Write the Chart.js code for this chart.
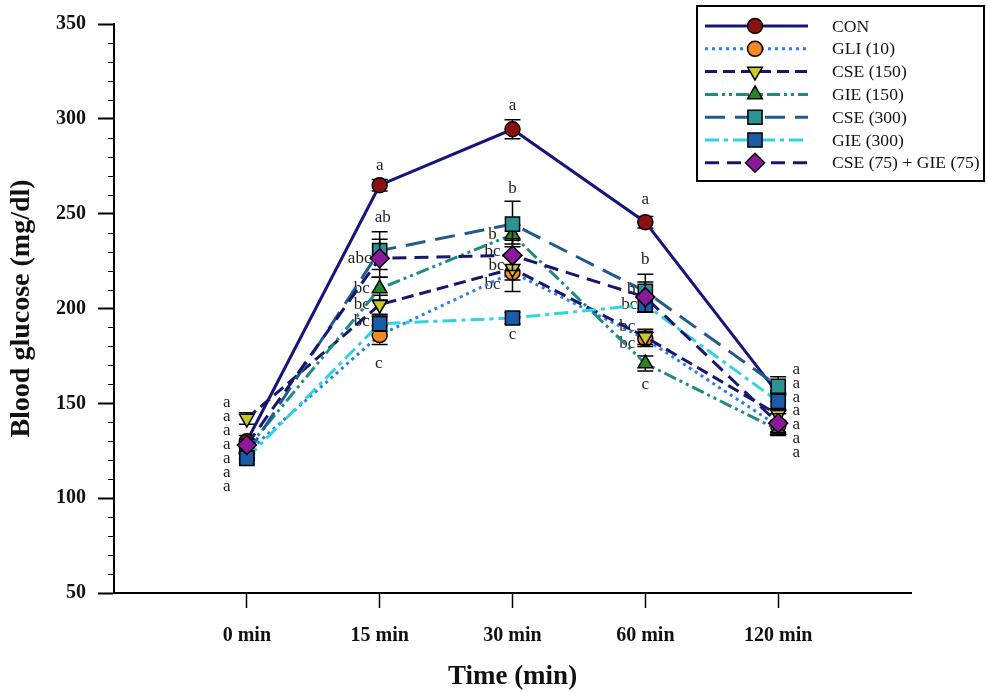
<!DOCTYPE html>
<html>
<head>
<meta charset="utf-8">
<script src="https://cdn.jsdelivr.net/npm/chart.js@4.4.1/dist/chart.umd.min.js"></script>
<style>
  html, body { margin: 0; padding: 0; background: #ffffff; }
  #wrap { width: 987px; height: 693px; }
</style>
</head>
<body>
<div id="wrap"><canvas id="c" width="987" height="693"></canvas></div>
<script>
// ---------------- DATA ----------------
const timeLabels = ['0 min', '15 min', '30 min', '60 min', '120 min'];
const seriesNames = ['CON', 'GLI (10)', 'CSE (150)', 'GIE (150)', 'CSE (300)', 'GIE (300)', 'CSE (75) + GIE (75)'];

const conValues    = [130, 265, 294.5, 245.5, 155];
const gliValues    = [124, 186, 219, 184, 138];
const cse150Values = [142, 202, 221, 185, 144];
const gie150Values = [126, 210.5, 239, 171, 136];
const cse300Values = [123, 230.5, 244.5, 209, 159];
const gie300Values = [121, 192, 195, 202, 151];
const cseGieValues = [128, 226.5, 228, 206, 139.5];

const conErr    = [3, 3, 5, 3, 4];
const gliErr    = [3, 5, 10, 4, 3];
const cse150Err = [3, 5, 6, 4, 3];
const gie150Err = [3, 6, 5, 4, 3];
const cse300Err = [3, 10, 12, 9, 5];
const gie300Err = [3, 4, 3, 4, 4];
const cseGieErr = [3, 10, 8, 8, 5];

const yTickValues = [50, 100, 150, 200, 250, 300, 350];

// significance letters per time point (text) and their anchor values (mg/dl)
const sigLetters = [
  ['a', 'a', 'a', 'a', 'a', 'a', 'a'],
  ['a', 'ab', 'abc', 'bc', 'bc', 'bc', 'c'],
  ['a', 'b', 'b', 'bc', 'bc', 'bc', 'c'],
  ['a', 'b', 'b', 'bc', 'bc', 'bc', 'c'],
  ['a', 'a', 'a', 'a', 'a', 'a', 'a']
];
const sigLetterValues = [
  [150.2, 142.8, 135.5, 128.1, 120.8, 113.5, 106.1],
  [275.5, 247.7, 226.2, 210.5, 202.1, 193.2, 171.2],
  [307.0, 263.5, 238.8, 229.9, 222.5, 212.6, 186.4],
  [257.2, 225.7, 210.0, 202.1, 190.6, 181.6, 160.1],
  [168.0, 160.7, 153.3, 146.0, 138.6, 131.3, 123.9]
];
// ---------------- STYLE ----------------
const sigLetterDx = [
  [-20, -20, -20, -20, -20, -20, -20],
  [0, 3, -20, -18, -18, -18, -1],
  [0, 0, -20, -20, -16, -20, 0],
  [0, 0, -14, -16, -18, -18, 0],
  [18, 18, 18, 18, 18, 18, 18]
];

const SERIF = '"Liberation Serif", "Times New Roman", serif';

function pts(vals) { return vals.map((v, i) => ({ x: i + 1, y: v })); }

const styles = [
  { line: '#16167a', dash: [], fill: '#8b1111', shape: 'circle', r: 7.5, rot: 0 },
  { line: '#2a80e6', dash: [3, 4], fill: '#f7891f', shape: 'circle', r: 7.5, rot: 0 },
  { line: '#17176f', dash: [12, 6], fill: '#c9c926', shape: 'triangle', r: 8.5, rot: 180 },
  { line: '#1f8c84', dash: [13, 4, 3, 4, 3, 4], fill: '#23881f', shape: 'triangle', r: 8.5, rot: 0 },
  { line: '#1f5c8c', dash: [20, 10], fill: '#2a9494', shape: 'rect', r: 10, rot: 0 },
  { line: '#2fd4e0', dash: [14, 5, 4, 5], fill: '#1a5ca8', shape: 'rect', r: 10, rot: 0 },
  { line: '#17176f', dash: [14, 8], fill: '#8a1a9c', shape: 'rectRot', r: 9.5, rot: 0 }
];
const allValues = [conValues, gliValues, cse150Values, gie150Values, cse300Values, gie300Values, cseGieValues];
const allErrs = [conErr, gliErr, cse150Err, gie150Err, cse300Err, gie300Err, cseGieErr];

const datasets = allValues.map((vals, i) => ({
  label: seriesNames[i],
  data: pts(vals),
  errors: allErrs[i],
  order: -i,
  borderColor: styles[i].line,
  borderWidth: 3,
  borderDash: styles[i].dash,
  pointStyle: styles[i].shape,
  pointRotation: styles[i].rot,
  pointRadius: styles[i].r,
  pointBackgroundColor: styles[i].fill,
  pointBorderColor: '#000000',
  pointBorderWidth: 1.5,
  tension: 0,
  fill: false
}));

function drawMarker(ctx, shape, x, y, r, rot, fill) {
  ctx.save();
  ctx.translate(x, y);
  ctx.rotate(rot * Math.PI / 180);
  ctx.beginPath();
  if (shape === 'circle') {
    ctx.arc(0, 0, r, 0, Math.PI * 2);
  } else if (shape === 'triangle') {
    const a = -Math.PI / 2;
    for (let k = 0; k < 3; k++) {
      const ang = a + k * 2 * Math.PI / 3;
      const px = Math.cos(ang) * r, py = Math.sin(ang) * r;
      if (k === 0) ctx.moveTo(px, py); else ctx.lineTo(px, py);
    }
    ctx.closePath();
  } else if (shape === 'rect') {
    const s = r * Math.SQRT1_2;
    ctx.rect(-s, -s, 2 * s, 2 * s);
  } else if (shape === 'rectRot') {
    ctx.moveTo(0, -r); ctx.lineTo(r, 0); ctx.lineTo(0, r); ctx.lineTo(-r, 0); ctx.closePath();
  }
  ctx.fillStyle = fill;
  ctx.fill();
  ctx.lineWidth = 1.5;
  ctx.strokeStyle = '#000';
  ctx.setLineDash([]);
  ctx.stroke();
  ctx.restore();
}

const extrasPlugin = {
  id: 'extras',
  beforeDatasetsDraw(chart) {
    const ctx = chart.ctx;
    const xs = chart.scales.x, ys = chart.scales.y;
    // minor ticks on y axis
    ctx.save();
    ctx.strokeStyle = '#000';
    ctx.lineWidth = 1;
    for (let v = 60; v < 350; v += 10) {
      if (v % 50 === 0) continue;
      const py = Math.round(ys.getPixelForValue(v)) + 0.5;
      ctx.beginPath();
      ctx.moveTo(chart.chartArea.left - 6, py);
      ctx.lineTo(chart.chartArea.left, py);
      ctx.stroke();
    }
    // significance letters
    ctx.fillStyle = '#222';
    ctx.font = '17px ' + SERIF;
    ctx.textAlign = 'center';
    ctx.textBaseline = 'middle';
    sigLetters.forEach((group, ti) => {
      const px = xs.getPixelForValue(ti + 1);
      group.forEach((txt, k) => {
        ctx.fillText(txt, px + sigLetterDx[ti][k], ys.getPixelForValue(sigLetterValues[ti][k]));
      });
    });
    ctx.restore();
  },
  beforeDatasetDraw(chart, args) {
    const ctx = chart.ctx;
    const ds = chart.data.datasets[args.index];
    const xs = chart.scales.x, ys = chart.scales.y;
    ctx.save();
    ctx.strokeStyle = '#000';
    ctx.lineWidth = 1.5;
    ctx.setLineDash([]);
    ds.data.forEach((p, i) => {
      const e = ds.errors[i];
      const px = xs.getPixelForValue(p.x);
      const yt = ys.getPixelForValue(p.y + e);
      const yb = ys.getPixelForValue(p.y - e);
      ctx.beginPath();
      ctx.moveTo(px, yt); ctx.lineTo(px, yb);
      ctx.moveTo(px - 8, yt); ctx.lineTo(px + 8, yt);
      ctx.moveTo(px - 8, yb); ctx.lineTo(px + 8, yb);
      ctx.stroke();
    });
    ctx.restore();
  },
  afterDraw(chart) {
    const ctx = chart.ctx;
    // legend box
    ctx.save();
    ctx.strokeStyle = '#000';
    ctx.lineWidth = 2;
    ctx.setLineDash([]);
    ctx.strokeRect(697, 6, 287, 175);
    const rowY0 = 26, rowStep = 22.8;
    chart.data.datasets.forEach((ds, i) => {
      const y = rowY0 + i * rowStep;
      ctx.save();
      ctx.strokeStyle = ds.borderColor;
      ctx.lineWidth = 3;
      ctx.setLineDash(ds.borderDash);
      ctx.beginPath();
      ctx.moveTo(705, y); ctx.lineTo(808, y);
      ctx.stroke();
      ctx.restore();
      drawMarker(ctx, ds.pointStyle, 755, y, ds.pointRadius, ds.pointRotation, ds.pointBackgroundColor);
      ctx.fillStyle = '#111';
      ctx.font = '17.6px ' + SERIF;
      ctx.textAlign = 'left';
      ctx.textBaseline = 'middle';
      ctx.fillText(ds.label, 832, y + 1);
    });
    ctx.restore();
  }
};

new Chart(document.getElementById('c'), {
  type: 'line',
  data: { datasets },
  plugins: [extrasPlugin],
  options: {
    responsive: false,
    animation: false,
    layout: { padding: { top: 21, right: 76, bottom: 0, left: 0 } },
    plugins: { legend: { display: false }, tooltip: { enabled: false } },
    scales: {
      x: {
        type: 'linear',
        min: 0, max: 6,
        afterFit: s => { s.height = 100; },
        afterBuildTicks: s => { s.ticks = [0, 1, 2, 3, 4, 5, 6].map(v => ({ value: v })); },
        ticks: {
          stepSize: 1,
          autoSkip: false,
          maxRotation: 0,
          color: '#111',
          font: { family: SERIF, size: 20, weight: 'bold' },
          padding: 16,
          callback: v => timeLabels[v - 1] || ''
        },
        grid: {
          drawOnChartArea: false,
          drawTicks: true,
          tickLength: 15,
          tickWidth: 1.5,
          tickColor: c => (c.tick && c.tick.value >= 1 && c.tick.value <= 5) ? '#000' : 'rgba(0,0,0,0)'
        },
        border: { display: true, color: '#000', width: 2 },
        title: {
          display: true, text: 'Time (min)', color: '#111',
          font: { family: SERIF, size: 27, weight: 'bold' },
          padding: { top: 0, bottom: 0 }
        }
      },
      y: {
        type: 'linear',
        min: 50, max: 350,
        afterFit: s => { s.width = 114; },
        afterBuildTicks: s => { s.ticks = yTickValues.map(v => ({ value: v })); },
        ticks: {
          color: '#111',
          font: { family: SERIF, size: 20, weight: 'bold' },
          padding: 12
        },
        grid: {
          drawOnChartArea: false,
          drawTicks: true,
          tickLength: 16,
          tickWidth: 2,
          tickColor: '#000'
        },
        border: { display: true, color: '#000', width: 2 },
        title: {
          display: true, text: 'Blood glucose (mg/dl)', color: '#111',
          font: { family: SERIF, size: 28, weight: 'bold' },
          padding: { top: 5, bottom: 0 }
        }
      }
    }
  }
});
</script>
</body>
</html>
